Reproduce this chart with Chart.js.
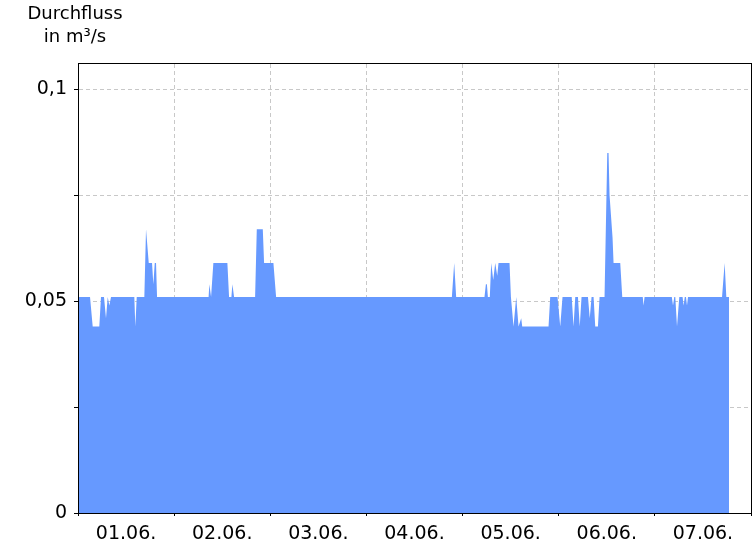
<!DOCTYPE html>
<html>
<head>
<meta charset="utf-8">
<script src="https://cdn.jsdelivr.net/npm/chart.js@4.4.1/dist/chart.umd.min.js"></script>
<style>
  html, body { margin: 0; padding: 0; background: #fff; }
  canvas { display: block; }
</style>
</head>
<body>
<canvas id="flowChart" width="756" height="546"></canvas>
<script>
// Durchfluss in m³/s, x = Stunden ab 01.06. 00:00
const flowHours = [
  0, 3.0, 3.67, 5.32, 5.74, 6.49, 6.99, 7.42, 7.82, 8.24,
  14.06, 14.31, 14.66, 16.56, 16.98, 17.1, 17.66, 18.48, 18.81, 19.16, 19.48, 19.73,
  32.6, 32.79, 33.22, 33.79, 37.29, 37.71, 38.29, 38.54, 38.96,
  44.21, 44.63, 46.13, 46.45, 48.78, 49.45,
  93.33, 93.91, 94.4,
  101.47, 101.82, 102.07, 102.32, 102.8, 103.15, 103.65, 104.15, 104.65, 104.97, 107.72,
  108.07, 108.72, 109.39, 109.97, 110.64, 110.89, 117.46, 117.88,
  119.7, 120.38, 120.95, 123.25, 123.7, 124.13, 124.8, 125.25, 125.7,
  127.3, 127.75, 128.2, 128.7, 129.12, 129.79, 130.2,
  131.44, 132.12, 132.44, 132.69, 133.44, 133.69, 135.36, 135.86,
  140.98, 141.18, 141.43, 148.23, 148.53, 148.85, 149.1, 149.53, 150.1,
  150.92, 151.17, 151.47, 151.77, 152.02, 152.27,
  160.77, 161.42, 161.84, 162.51
];
const flowValues = [
  0.051, 0.051, 0.044, 0.044, 0.051, 0.051, 0.046, 0.051, 0.049, 0.051,
  0.051, 0.044, 0.051, 0.051, 0.067, 0.067, 0.059, 0.059, 0.054, 0.059, 0.059, 0.051,
  0.051, 0.054, 0.051, 0.059, 0.059, 0.051, 0.051, 0.054, 0.051,
  0.051, 0.067, 0.067, 0.059, 0.059, 0.051,
  0.051, 0.059, 0.051,
  0.051, 0.054, 0.054, 0.051, 0.051, 0.059, 0.055, 0.059, 0.056, 0.059, 0.059,
  0.051, 0.044, 0.051, 0.044, 0.046, 0.044, 0.044, 0.051,
  0.051, 0.044, 0.051, 0.051, 0.044, 0.051, 0.051, 0.044, 0.051,
  0.051, 0.046, 0.051, 0.051, 0.044, 0.044, 0.051,
  0.051, 0.085, 0.085, 0.075, 0.065, 0.059, 0.059, 0.051,
  0.051, 0.049, 0.051, 0.051, 0.049, 0.051, 0.051, 0.044, 0.051,
  0.051, 0.049, 0.051, 0.051, 0.049, 0.051,
  0.051, 0.059, 0.051, 0.051
];

const dayLabels = ['01.06.', '02.06.', '03.06.', '04.06.', '05.06.', '06.06.', '07.06.'];
const xTickHours = [0, 12, 24, 36, 48, 60, 72, 84, 96, 108, 120, 132, 144, 156, 168];
const yTickValues = [0, 0.025, 0.05, 0.075, 0.1];
const yTickLabels = ['0', '', '0,05', '', '0,1'];

const FONT = 'DejaVu Sans';
const gridGrey = '#c8c8c8';

// title top-left + border around the plot
const frameAndTitle = {
  id: 'frameAndTitle',
  afterDraw(chart) {
    const { ctx, chartArea: a } = chart;
    ctx.save();
    ctx.strokeStyle = '#000';
    ctx.lineWidth = 1;
    ctx.strokeRect(a.left + 0.5, a.top - 0.5, a.right - a.left, a.bottom - a.top + 1);
    ctx.fillStyle = '#000';
    ctx.font = '18px "' + FONT + '"';
    ctx.textAlign = 'center';
    ctx.textBaseline = 'alphabetic';
    ctx.fillText('Durchfluss', 75, 19);
    ctx.fillText('in m³/s', 75, 42);
    ctx.restore();
  }
};

const points = flowHours.map((h, i) => ({ x: h, y: flowValues[i] }));

new Chart(document.getElementById('flowChart'), {
  type: 'line',
  data: {
    datasets: [{
      data: points,
      fill: 'origin',
      backgroundColor: '#6699ff',
      borderColor: 'rgba(0,0,0,0)',
      borderWidth: 0,
      pointRadius: 0,
      tension: 0
    }]
  },
  options: {
    responsive: false,
    animation: false,
    events: [],
    layout: { padding: { top: 64, right: 5, left: 0, bottom: 0 } },
    plugins: { legend: { display: false }, tooltip: { enabled: false } },
    scales: {
      x: {
        type: 'linear',
        min: 0,
        max: 168,
        z: 1,
        afterBuildTicks: (scale) => { scale.ticks = xTickHours.map(v => ({ value: v })); },
        afterFit: (scale) => {
          scale.height = 33;
          scale.paddingLeft = 0;
          scale.paddingRight = 0;
        },
        grid: {
          color: (c) => (c.tick && c.tick.value % 24 === 0) ? gridGrey : 'rgba(0,0,0,0)',
          tickColor: (c) => (c.tick && c.tick.value % 24 === 0) ? '#000' : 'rgba(0,0,0,0)',
          tickLength: 3,
          lineWidth: 1
        },
        border: { color: '#000', width: 1, dash: [4, 3] },
        ticks: {
          autoSkip: false,
          maxRotation: 0,
          padding: 7,
          color: '#000',
          font: { family: FONT, size: 19 },
          callback: (v) => (v % 24 === 12) ? dayLabels[(v - 12) / 24] : ''
        }
      },
      y: {
        min: 0,
        max: 0.106,
        z: 1,
        afterBuildTicks: (scale) => { scale.ticks = yTickValues.map(v => ({ value: v })); },
        afterFit: (scale) => { scale.width = 78; },
        grid: {
          color: (c) => (c.tick && c.tick.value > 0) ? gridGrey : 'rgba(0,0,0,0)',
          tickColor: '#000',
          tickLength: 4,
          lineWidth: 1
        },
        border: { color: '#000', width: 1, dash: [4, 3] },
        ticks: {
          padding: 7,
          color: '#000',
          font: { family: FONT, size: 19 },
          callback: (v, i) => yTickLabels[i]
        }
      }
    }
  },
  plugins: [frameAndTitle]
});
</script>
</body>
</html>
